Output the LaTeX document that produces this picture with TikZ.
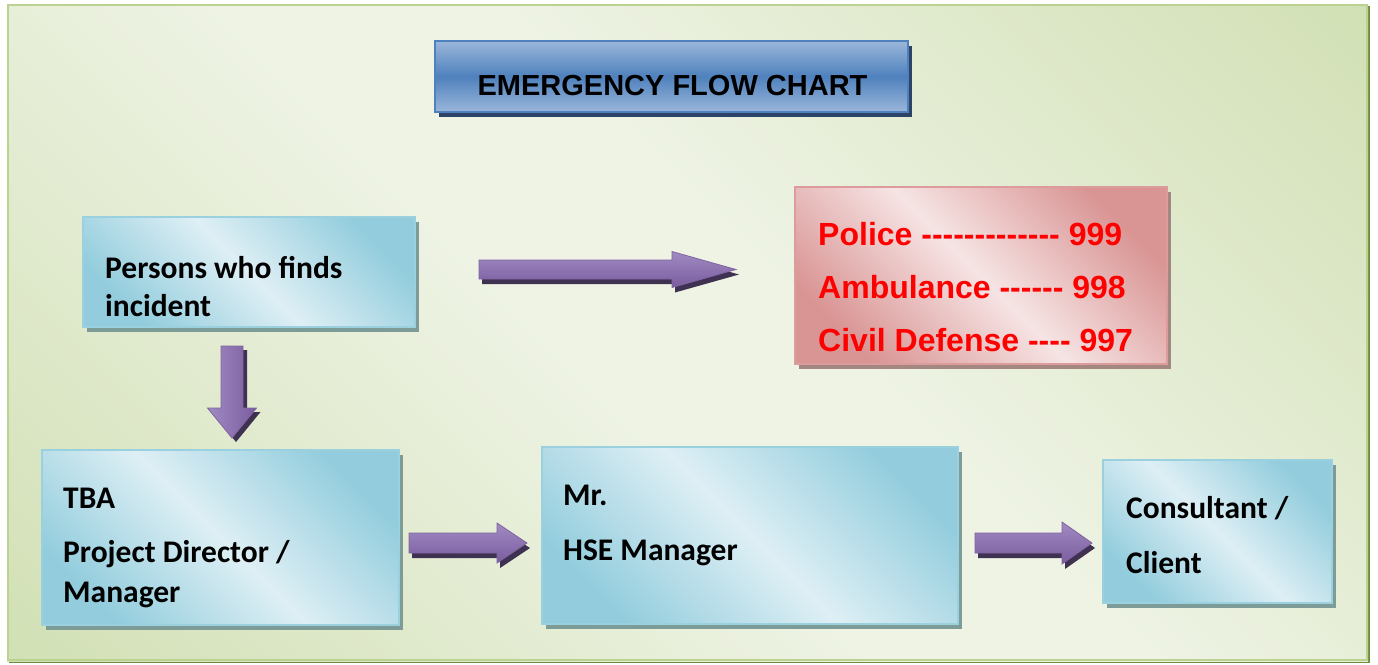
\documentclass[tikz,border=0pt]{standalone}
\usepackage{fontspec}
\newfontfamily\arialb{Liberation Sans}[BoldFont={Liberation Sans Bold}]
\newfontfamily\calb{Carlito}[BoldFont={Carlito Bold}]
\definecolor{bgl}{HTML}{EEF3E4}
\definecolor{bgd}{HTML}{C4D79E}
\definecolor{frm}{HTML}{BCD290}
\definecolor{frmd}{HTML}{6E8B3D}
\definecolor{bluel}{HTML}{DEEFF5}
\definecolor{blued}{HTML}{93CDDD}
\definecolor{blueb}{HTML}{9BD0DF}
\definecolor{blues}{HTML}{7D9C98}
\definecolor{titl}{HTML}{9AB6DA}
\definecolor{titd}{HTML}{4F81BD}
\definecolor{titb}{HTML}{4F81BD}
\definecolor{tits}{HTML}{2D4468}
\definecolor{pinkl}{HTML}{F6E4E4}
\definecolor{pinkd}{HTML}{D99594}
\definecolor{pinkb}{HTML}{DB9C9B}
\definecolor{pinks}{HTML}{A38780}
\definecolor{purl}{HTML}{A08BC2}
\definecolor{purd}{HTML}{7A5C9E}
\definecolor{purb}{HTML}{8064A2}
\definecolor{purs}{HTML}{3F3151}
\definecolor{redt}{HTML}{FF0000}
\pgfdeclarehorizontalshading{bgshade}{100bp}{color(0bp)=(bgd); color(45bp)=(bgl); color(55bp)=(bgl); color(100bp)=(bgd)}
\newcommand\hy{-\kern0pt}
\newcommand\hyrun[1]{\foreach \i in {1,...,#1}{\hy}}
\newcommand\harrpath[6]{(#1,#4-#5) -- (#2,#4-#5) -- (#2,#4-#6) -- (#3,#4) -- (#2,#4+#6) -- (#2,#4+#5) -- (#1,#4+#5) -- cycle}
\newcommand\varrpath[6]{(#4-#5,#1) -- (#4-#5,#2) -- (#4-#6,#2) -- (#4,#3) -- (#4+#6,#2) -- (#4+#5,#2) -- (#4+#5,#1) -- cycle}
\tikzset{
  boxbase/.style={anchor=north west, inner sep=0pt, outer sep=0pt},
  bluebox/.style={boxbase, draw=blueb, line width=1.5pt, shading=axis,
    top color=blued, bottom color=blued, middle color=bluel, shading angle=-45},
  pinkbox/.style={boxbase, draw=pinkb, line width=1.5pt, shading=axis,
    top color=pinkd, bottom color=pinkd, middle color=pinkl, shading angle=-45},
  titlebox/.style={boxbase, draw=titb, line width=2pt, shading=axis,
    top color=titl, bottom color=titl, middle color=titd},
  calt/.style={anchor=base west, inner sep=0pt, font=\calb\bfseries\fontsize{31.5}{38}\selectfont, text=black},
  redtxt/.style={anchor=base west, inner sep=0pt, font=\arialb\bfseries\fontsize{32}{38}\selectfont, text=redt},
  arrh/.style={draw=purb, line width=0.8pt, top color=purl, bottom color=purd},
  arrv/.style={draw=purb, line width=0.8pt, left color=purl, right color=purd},
}
% name, x1, y1, x2, y2, style, shadow colour
\newcommand\shbox[7]{%
  \fill[#7] (#2+4,#3+5) rectangle (#4+4,#5+5);
  \node[#6, minimum width=#4pt-#2pt, minimum height=#5pt-#3pt] (#1) at (#2,#3) {};}
\newcommand\harr[6]{%
  \begin{scope}[shift={(3,5)}]\fill[purs] \harrpath{#1}{#2}{#3}{#4}{#5}{#6};\end{scope}
  \path[arrh] \harrpath{#1}{#2}{#3}{#4}{#5}{#6};}
\newcommand\varr[6]{%
  \begin{scope}[shift={(4,4)}]\fill[purs] \varrpath{#1}{#2}{#3}{#4}{#5}{#6};\end{scope}
  \path[arrv] \varrpath{#1}{#2}{#3}{#4}{#5}{#6};}
\begin{document}
\begin{tikzpicture}[x=1pt,y=-1pt]
\useasboundingbox (0,0) rectangle (1378,664);
% background panel
\fill[frmd] (9,6) rectangle (1370,663);
\path[shading=bgshade, shading angle=45] (7,4) rectangle (1368,661);
\draw[frm, line width=2.5pt] (8,5) rectangle (1367,660);
% title
\shbox{title}{435}{41}{908}{112}{titlebox}{tits}
\node[anchor=base, inner sep=0pt, font=\arialb\bfseries\fontsize{29}{34}\selectfont] (titletxt) at (672.5,95) {EMERGENCY FLOW CHART};
% boxes
\shbox{finder}{83}{217}{415}{327}{bluebox}{blues}
\node[calt] (finder1) at (105,278) {Persons who finds};
\node[calt] (finder2) at (105,316) {incident};
\shbox{emerg}{795}{187}{1167}{364}{pinkbox}{pinks}
\node[redtxt] (police) at (818,245) {Police \hyrun{13}\ 999};
\node[redtxt] (amb) at (818,298) {Ambulance \hyrun{6}\ 998};
\node[redtxt] (civil) at (818,351) {Civil Defense \hyrun{4}\ 997};
\shbox{pd}{42}{450}{399}{625}{bluebox}{blues}
\node[calt] (pd1) at (63,508) {TBA};
\node[calt] (pd2) at (63,562) {Project Director /};
\node[calt] (pd3) at (63,602) {Manager};
\shbox{hse}{542}{447}{958}{624}{bluebox}{blues}
\node[calt] (hse1) at (563,505) {Mr.};
\node[calt] (hse2) at (563,560) {HSE Manager};
\shbox{cons}{1103}{460}{1332}{603}{bluebox}{blues}
\node[calt] (cons1) at (1126,518) {Consultant /};
\node[calt] (cons2) at (1126,573) {Client};
% block arrows
\harr{479}{672}{736}{269.5}{9.5}{18}
\varr{346}{408}{438}{232}{11}{24.5}
\harr{409}{497}{527}{543}{10}{20}
\harr{975}{1062}{1092}{543}{10}{21}
\end{tikzpicture}
\end{document}
